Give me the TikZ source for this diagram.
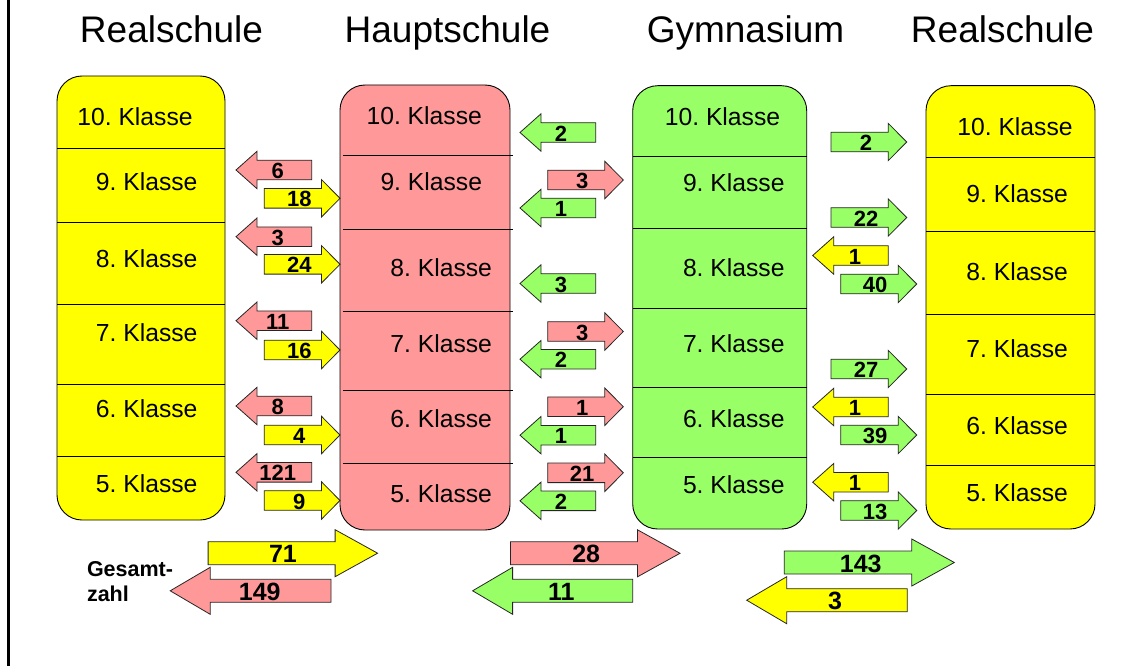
\documentclass[tikz,border=0pt]{standalone}
\usepackage{fontspec}
\setmainfont{Liberation Sans}
\frenchspacing
\definecolor{yel}{HTML}{FFFF00}
\definecolor{pinkc}{HTML}{FF9999}
\definecolor{grn}{HTML}{99FF66}
\newcommand{\smalllabel}{\bfseries\fontsize{22}{22}\selectfont}
\newcommand{\biglabel}{\bfseries\fontsize{25}{25}\selectfont}
\tikzset{
  colbox/.style={draw=black, line width=0.9pt, rounded corners=25pt, inner sep=0pt, outer sep=0pt, anchor=north west},
  divider/.style={draw=black, line width=0.9pt},
  arrowbody/.style={draw=black!85, line width=0.8pt, line join=miter},
  numlabel/.style={inner sep=0pt, anchor=center},
  klasse/.style={inner sep=0pt, anchor=center, font=\fontsize{24.7}{24.7}\selectfont},
  title/.style={inner sep=0pt, anchor=base, font=\fontsize{37}{37}\selectfont},
  gesamt/.style={inner sep=0pt, anchor=base west, font=\bfseries\fontsize{21.5}{21.5}\selectfont}
}
% name, tail x, tip x, y, fill, label, label x, size (s/b)
\newcommand{\blockarrow}[8]{%
  \if b#8\relax
    \def\baBH{11.5}\def\baHH{23.5}\def\baHLr{42.5}\def\baHLl{40}\def\baFont{\biglabel}%
  \else
    \def\baBH{9.8}\def\baHH{18.7}\def\baHLr{18.5}\def\baHLl{21}\def\baFont{\smalllabel}%
  \fi
  \pgfmathsetmacro\baDir{(#3>#2) ? 1 : -1}%
  \pgfmathsetmacro\baHL{(\baDir>0) ? \baHLr : \baHLl}%
  \pgfmathsetmacro\baHB{#3-\baDir*\baHL}%
  \draw[arrowbody, fill=#5] (#2,#4-\baBH) -- (\baHB,#4-\baBH) -- (\baHB,#4-\baHH) -- (#3,#4) -- (\baHB,#4+\baHH) -- (\baHB,#4+\baBH) -- (#2,#4+\baBH) -- cycle;
  \node[numlabel, font=\baFont] (#1) at (#7,#4+1) {#6};
}
\begin{document}
\begin{tikzpicture}[x=1pt,y=-1pt]
\useasboundingbox (0,0) rectangle (1135,666);
\fill[white] (0,0) rectangle (1135,666);
\draw[line width=2.5pt] (8.7,0) -- (8.7,666);

% titles
\node[title] (t1) at (171.5,43) {Realschule};
\node[title] (t2) at (447.5,43) {Hauptschule};
\node[title] (t3) at (745.5,43) {Gymnasium};
\node[title] (t4) at (1002.5,43) {Realschule};

% column 1
\node[colbox, fill=yel, minimum width=168pt, minimum height=444pt] (c1) at (57,76) {};
\foreach \yy in {148.3,222.3,304,384.3,456} \draw[divider] (57,\yy) -- (225,\yy);
\node[klasse] (k1a) at (135,116.3) {10. Klasse};
\node[klasse] (k1b) at (146.7,182) {9. Klasse};
\node[klasse] (k1c) at (146.7,258.2) {8. Klasse};
\node[klasse] (k1d) at (146.7,332.8) {7. Klasse};
\node[klasse] (k1e) at (146.7,408.7) {6. Klasse};
\node[klasse] (k1f) at (146.7,483.8) {5. Klasse};

% column 2
\node[colbox, fill=pinkc, minimum width=170pt, minimum height=445pt] (c2) at (340,85) {};
\foreach \yy in {155.3,229,311,390.7,463} \draw[divider] (343,\yy) -- (513,\yy);
\node[klasse] (k2a) at (424.2,116) {10. Klasse};
\node[klasse] (k2b) at (431.3,181.7) {9. Klasse};
\node[klasse] (k2c) at (441.2,267.7) {8. Klasse};
\node[klasse] (k2d) at (441.2,343.3) {7. Klasse};
\node[klasse] (k2e) at (441.2,418.3) {6. Klasse};
\node[klasse] (k2f) at (441.2,493.8) {5. Klasse};

% column 3
\node[colbox, fill=grn, minimum width=174pt, minimum height=443.3pt] (c3) at (632.7,85.7) {};
\foreach \yy in {156,228.3,308.3,387.3,457.3} \draw[divider] (632.7,\yy) -- (806.7,\yy);
\node[klasse] (k3a) at (722.5,116.7) {10. Klasse};
\node[klasse] (k3b) at (733.8,182.5) {9. Klasse};
\node[klasse] (k3c) at (733.8,267.2) {8. Klasse};
\node[klasse] (k3d) at (733.8,343.7) {7. Klasse};
\node[klasse] (k3e) at (733.8,418.3) {6. Klasse};
\node[klasse] (k3f) at (733.8,484.5) {5. Klasse};

% column 4
\node[colbox, fill=yel, minimum width=169pt, minimum height=443.3pt] (c4) at (926,85.7) {};
\foreach \yy in {157.7,231.7,314,394,465.7} \draw[divider] (926,\yy) -- (1095,\yy);
\node[klasse] (k4a) at (1015,126.7) {10. Klasse};
\node[klasse] (k4b) at (1017.2,193.7) {9. Klasse};
\node[klasse] (k4c) at (1017.2,271.7) {8. Klasse};
\node[klasse] (k4d) at (1017.2,348.3) {7. Klasse};
\node[klasse] (k4e) at (1017.2,425.3) {6. Klasse};
\node[klasse] (k4f) at (1017.2,492.2) {5. Klasse};

% arrows between column 1 and 2
\blockarrow{a1}{311.7}{236}{170}{pinkc}{6}{277.7}{s}
\blockarrow{a2}{264.3}{340}{198.3}{yel}{18}{299.3}{s}
\blockarrow{a3}{311.7}{236}{236.7}{pinkc}{3}{277.7}{s}
\blockarrow{a4}{264.3}{340}{264.3}{yel}{24}{299.3}{s}
\blockarrow{a5}{311.7}{236}{320.7}{pinkc}{11}{277.7}{s}
\blockarrow{a6}{264.3}{340}{350}{yel}{16}{299.3}{s}
\blockarrow{a7}{311.7}{236}{406}{pinkc}{8}{277.7}{s}
\blockarrow{a8}{264.3}{340}{435}{yel}{4}{299.3}{s}
\blockarrow{a9}{311.7}{236}{472.3}{pinkc}{121}{277.7}{s}
\blockarrow{a10}{264.3}{340}{500.5}{yel}{9}{299.3}{s}

% arrows between column 2 and 3
\blockarrow{b1}{595.7}{520}{132.5}{grn}{2}{561}{s}
\blockarrow{b2}{547.7}{623.3}{180}{pinkc}{3}{582.3}{s}
\blockarrow{b3}{595.7}{520}{208}{grn}{1}{561}{s}
\blockarrow{b4}{595.7}{520}{283.5}{grn}{3}{561}{s}
\blockarrow{b5}{547.7}{623.3}{331.5}{pinkc}{3}{582.3}{s}
\blockarrow{b6}{595.7}{520}{359.2}{grn}{2}{561}{s}
\blockarrow{b7}{547.7}{623.3}{406.7}{pinkc}{1}{582.3}{s}
\blockarrow{b8}{595.7}{520}{435.2}{grn}{1}{561}{s}
\blockarrow{b9}{547.7}{623.3}{472.8}{pinkc}{21}{582}{s}
\blockarrow{b10}{595.7}{520}{500.8}{grn}{2}{561}{s}

% arrows between column 3 and 4
\blockarrow{d1}{831}{906.7}{142}{grn}{2}{866}{s}
\blockarrow{d2}{831}{906.7}{217.5}{grn}{22}{866}{s}
\blockarrow{d3}{888.3}{812.7}{255.5}{yel}{1}{855}{s}
\blockarrow{d4}{840.7}{916.7}{284}{grn}{40}{875}{s}
\blockarrow{d5}{831}{906.7}{369}{grn}{27}{866}{s}
\blockarrow{d6}{888.3}{812.7}{407}{yel}{1}{855}{s}
\blockarrow{d7}{840.7}{916.7}{435}{grn}{39}{875}{s}
\blockarrow{d8}{888.3}{812.7}{482.2}{yel}{1}{855}{s}
\blockarrow{d9}{840.7}{916.7}{510.5}{grn}{13}{875}{s}

% totals
\node[gesamt] (g1) at (86.8,576) {Gesamt-};
\node[gesamt] (g2) at (86.8,601.7) {zahl};
\blockarrow{e1}{208.1}{377.6}{553.2}{yel}{71}{283}{b}
\blockarrow{e2}{331}{170.2}{590.8}{pinkc}{149}{259.8}{b}
\blockarrow{e3}{510.4}{680}{553.3}{pinkc}{28}{586.2}{b}
\blockarrow{e4}{632.7}{472.6}{590.8}{grn}{11}{561.3}{b}
\blockarrow{e5}{784.3}{954.3}{562.5}{grn}{143}{860.7}{b}
\blockarrow{e6}{907.3}{746.7}{600.2}{yel}{3}{835}{b}
\end{tikzpicture}
\end{document}
